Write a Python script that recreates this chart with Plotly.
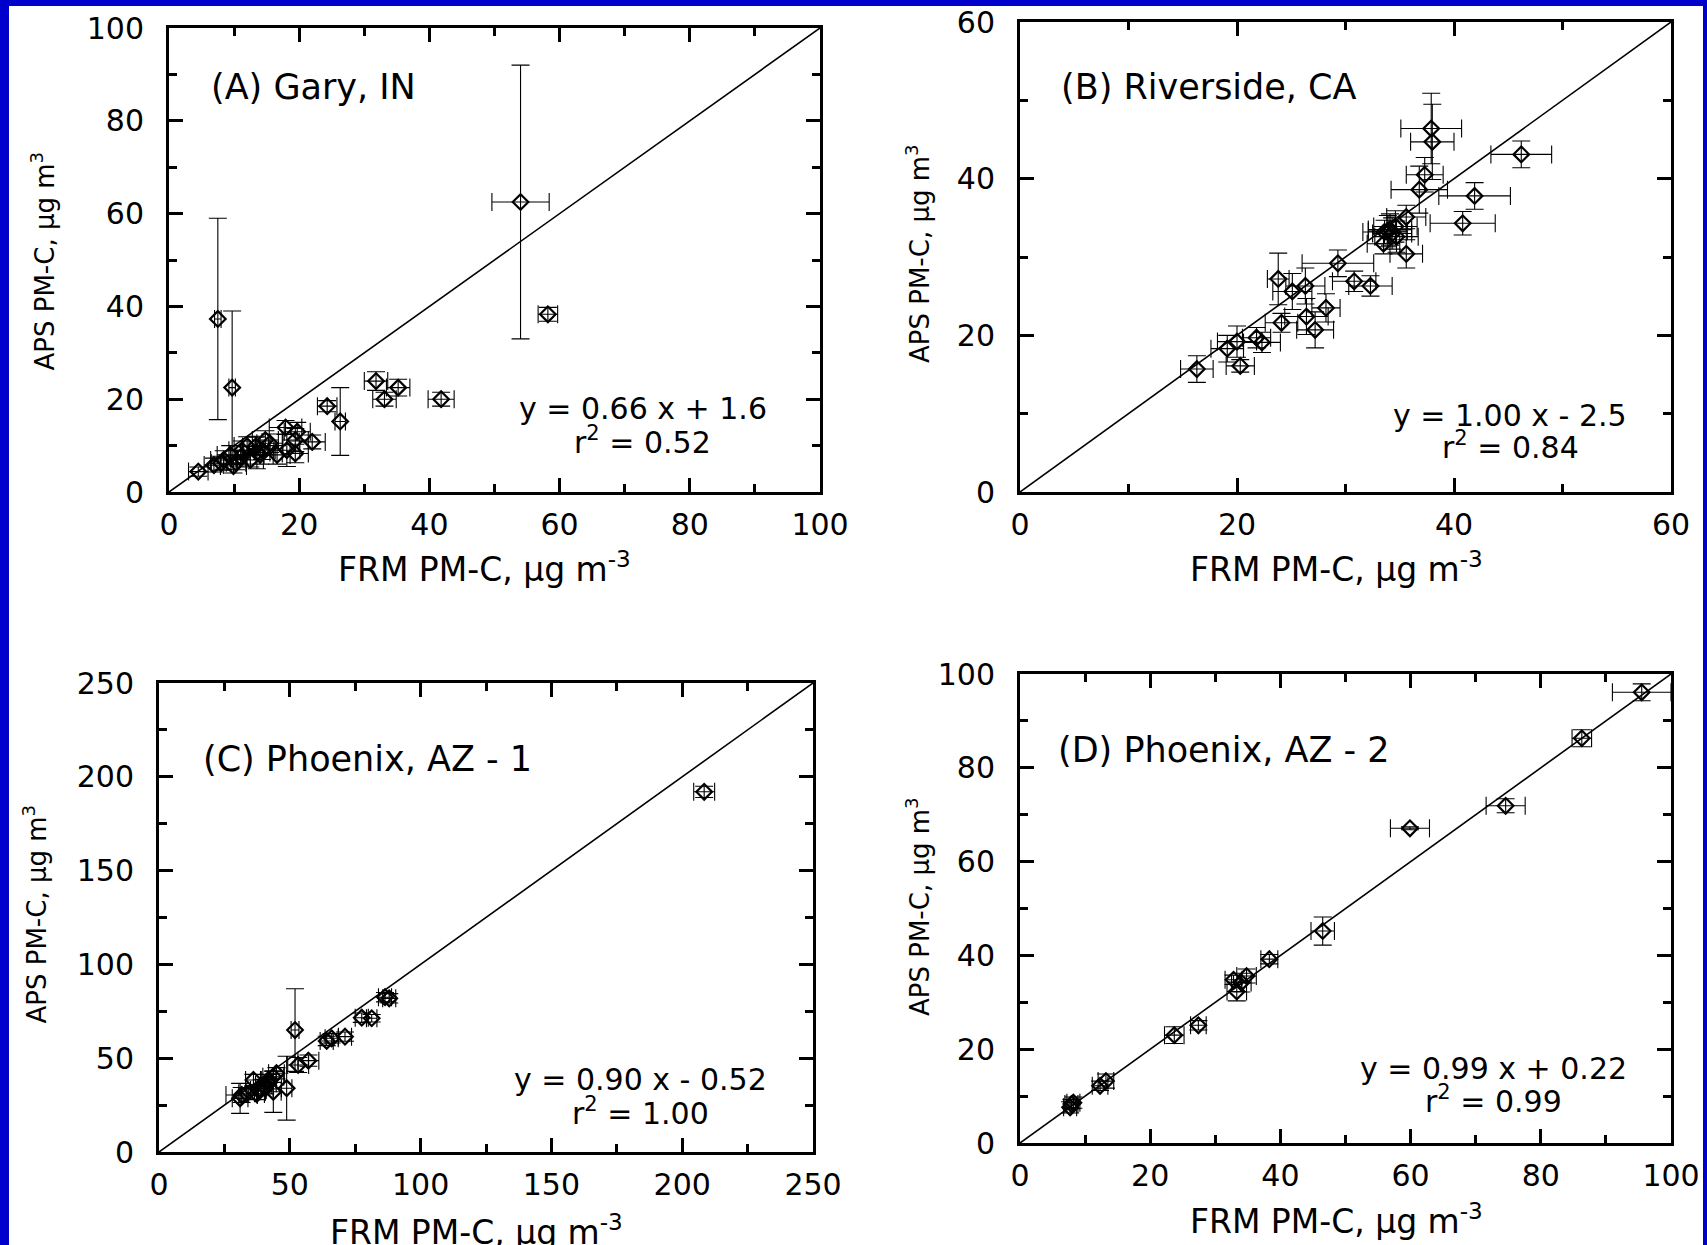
import plotly.graph_objects as go

# ---------------- data ----------------
# (A) Gary, IN
A_x = [7.5, 9.7, 54.0, 58.2, 31.8, 33.1, 35.2, 41.8, 24.3, 26.3, 4.5, 6.9, 8.0, 8.4, 9.9, 9.4, 10.3,
       11.0, 11.2, 12.0, 12.5, 13.3, 13.5, 14.0, 14.3, 14.8, 15.5, 16.6, 17.9, 18.1, 19.4, 19.7, 19.4, 22.0]
A_y = [37.3, 22.5, 62.5, 38.3, 23.9, 20.0, 22.5, 20.0, 18.5, 15.2, 4.4, 5.8, 6.2, 6.9, 5.6, 8.0, 6.3,
       7.5, 9.0, 9.9, 6.9, 9.8, 8.5, 8.0, 9.0, 11.2, 10.5, 8.0, 13.9, 9.0, 8.3, 13.0, 11.2, 10.8]
A_xerr = [0.5, 0.5, 4.4, 1.5, 1.8, 1.8, 1.8, 2.0, 1.5, 0.8, 1.5, 1.5, 1.5, 2.0, 2.0, 2.0, 1.5,
          1.5, 2.0, 2.0, 2.0, 2.0, 2.0, 2.0, 2.0, 2.0, 2.0, 2.0, 2.5, 2.0, 2.0, 2.0, 2.0, 2.0]
A_yerr = [21.7, 16.5, 29.5, 1.5, 2.0, 1.5, 1.8, 1.5, 1.2, 7.3, 1.0, 1.5, 1.5, 2.0, 1.5, 2.0, 1.5,
          1.5, 2.0, 2.0, 1.5, 2.0, 3.5, 2.0, 2.0, 2.0, 2.0, 2.0, 1.5, 3.5, 2.0, 2.0, 2.5, 1.5]

# (B) Riverside, CA
B_x = [16.3, 20.3, 19.1, 20.0, 21.8, 22.3, 24.1, 23.8, 25.1, 26.3, 26.4, 27.2, 28.2, 29.3, 30.8, 32.3,
       33.5, 33.6, 34.1, 34.6, 34.7, 35.6, 35.6, 36.8, 37.3, 38.0, 37.9, 41.9, 40.8, 46.2, 34.3, 33.9]
B_y = [15.7, 16.1, 18.3, 19.2, 19.7, 19.1, 21.6, 27.2, 25.6, 26.3, 22.4, 20.7, 23.5, 29.2, 26.9, 26.3,
       31.7, 33.2, 33.5, 33.9, 32.6, 35.1, 30.4, 38.6, 40.5, 44.7, 46.4, 37.8, 34.3, 43.1, 33.0, 33.3]
B_xerr = [1.5, 1.3, 1.5, 1.8, 1.3, 1.7, 1.5, 1.0, 1.8, 1.8, 2.0, 1.7, 1.3, 3.3, 2.0, 2.0,
          1.5, 2.0, 2.0, 2.0, 2.0, 1.8, 1.5, 2.6, 1.7, 2.0, 2.8, 3.3, 3.0, 2.8, 1.8, 1.8]
B_yerr = [1.7, 0.8, 1.7, 2.0, 1.3, 1.3, 1.2, 3.3, 2.3, 2.3, 2.3, 2.3, 1.8, 1.7, 1.3, 1.3,
          1.3, 1.5, 2.0, 2.0, 2.0, 1.5, 1.8, 3.0, 2.2, 4.8, 4.5, 1.7, 1.5, 1.7, 2.0, 2.0]

# (C) Phoenix, AZ - 1
C_x = [208.4, 52.0, 86.4, 88.0, 77.5, 81.3, 71.1, 64.1, 66.0, 57.1, 53.2, 48.8, 43.7, 41.8, 39.9,
       36.1, 38.0, 43.7, 31.6, 31.0, 33.5, 37.3, 44.9, 41.8, 40.6]
C_y = [192.0, 65.0, 82.5, 81.9, 71.6, 71.3, 61.5, 59.2, 60.6, 48.7, 46.4, 34.0, 40.1, 38.4, 35.7,
       38.4, 33.0, 32.1, 30.4, 28.6, 31.3, 30.9, 42.0, 36.6, 34.0]
C_xerr = [4.0, 1.5, 2.5, 2.5, 2.5, 2.0, 2.5, 2.5, 2.5, 4.0, 4.0, 2.0, 4.0, 3.0, 3.0,
          3.0, 3.0, 3.0, 6.0, 3.0, 3.0, 3.0, 3.0, 3.0, 3.0]
C_yerr = [3.0, 22.0, 2.5, 2.5, 2.5, 2.0, 2.5, 2.5, 2.5, 3.0, 4.0, 17.0, 3.0, 3.0, 3.0,
          3.0, 3.0, 11.0, 4.0, 8.0, 3.0, 3.0, 3.0, 3.0, 3.0]

# (D) Phoenix, AZ - 2
D_x = [7.9, 7.7, 8.2, 12.3, 13.2, 23.7, 27.4, 32.8, 33.3, 34.8, 38.3, 46.5, 59.9, 74.6, 86.3, 95.5, 34.0]
D_y = [8.3, 7.6, 8.6, 12.2, 13.2, 23.0, 25.1, 34.8, 32.3, 35.6, 39.2, 45.2, 67.1, 71.9, 86.3, 96.1, 34.2]
D_xerr = [1.0, 1.0, 1.0, 1.2, 1.2, 1.5, 1.2, 1.3, 1.5, 1.5, 1.3, 1.8, 3.0, 3.0, 1.5, 4.5, 1.5]
D_yerr = [1.0, 1.2, 1.2, 1.0, 1.5, 1.8, 1.0, 1.0, 2.0, 1.5, 1.0, 3.0, 0.3, 1.5, 1.8, 1.8, 2.0]

panel_labels = ["(A) Gary, IN", "(B) Riverside, CA", "(C) Phoenix, AZ - 1", "(D) Phoenix, AZ - 2"]
equations = ["y = 0.66 x + 1.6", "y = 1.00 x - 2.5", "y = 0.90 x - 0.52", "y = 0.99 x + 0.22"]
r2_texts = ["r<sup>2</sup> = 0.52", "r<sup>2</sup> = 0.84", "r<sup>2</sup> = 1.00", "r<sup>2</sup> = 0.99"]
axis_max = [100, 60, 250, 100]
major_dtick = [20, 20, 50, 20]
minor_dtick = [10, 10, 25, 10]
x_title = "FRM PM-C, µg m<sup>-3</sup>"
y_title = "APS PM-C, µg m<sup>3</sup>"

# ---------------- layout geometry ----------------
W, H = 1707, 1245
FONT = "DejaVu Sans, Verdana, sans-serif"

def px_x(p):
    return p / W

def px_y(p):
    return 1 - p / H

# plot boxes in pixels: (left, right, top, bottom)
boxes = [(169, 820, 28, 492), (1020, 1671, 22, 492), (159, 813, 683, 1152), (1020, 1671, 674, 1143)]

# annotation positions in data units
label_pos = [(6.2, 87.3), (3.6, 51.7), (16.2, 209.5), (5.5, 83.8)]
eq_pos = [(72.8, 17.9, 11.0), (45.2, 9.8, 5.9), (183.9, 38.4, 21.6), (72.8, 15.8, 9.2)]
# axis title positions in pixels
xt_pos = [(484.5, 567), (1336, 567), (476, 1230), (1336, 1219)]
yt_pos = [(43.5, 261), (918, 254), (35, 914.5), (918, 907)]

data = [(A_x, A_y, A_xerr, A_yerr), (B_x, B_y, B_xerr, B_yerr),
        (C_x, C_y, C_xerr, C_yerr), (D_x, D_y, D_xerr, D_yerr)]

fig = go.Figure()
layout = dict(width=W, height=H, margin=dict(l=0, r=0, t=0, b=0, pad=0, autoexpand=False),
              template="none",
              paper_bgcolor="white", plot_bgcolor="white", showlegend=False,
              font=dict(family=FONT, size=30, color="black"))
annotations = []
shapes = []

for i in range(4):
    n = "" if i == 0 else str(i + 1)
    xa, ya = "x" + n, "y" + n
    xs, ys, xe, ye = data[i]
    m = axis_max[i]
    # 1:1 line
    fig.add_trace(go.Scatter(x=[0, m], y=[0, m], mode="lines", xaxis=xa, yaxis=ya,
                             line=dict(color="black", width=1.6), hoverinfo="skip"))
    fig.add_trace(go.Scatter(
        x=xs, y=ys, mode="markers", xaxis=xa, yaxis=ya,
        marker=dict(symbol="diamond-open", size=12, color="black", line=dict(width=2.2, color="black")),
        error_x=dict(type="data", array=xe, visible=True, color="black", thickness=1.1, width=9),
        error_y=dict(type="data", array=ye, visible=True, color="black", thickness=1.1, width=9),
    ))
    l, r, t, b = boxes[i]
    axis_common = dict(
        range=[0, m], showgrid=False, zeroline=False, showline=True, linecolor="black", linewidth=3,
        mirror="ticks", ticks="inside", ticklen=14, tickwidth=3, tickcolor="black",
        dtick=major_dtick[i], tick0=0, automargin=False,
        minor=dict(dtick=minor_dtick[i], tick0=0, ticks="inside", ticklen=8, tickwidth=3, tickcolor="black"),
        tickfont=dict(family=FONT, size=30, color="black"), fixedrange=True,
    )
    layout["xaxis" + n] = dict(axis_common, domain=[px_x(l), px_x(r)], anchor=ya, ticklabelstandoff=4)
    layout["yaxis" + n] = dict(axis_common, domain=[px_y(b), px_y(t)], anchor=xa, ticklabelstandoff=16)

    lx, ly = label_pos[i]
    annotations.append(dict(x=lx, y=ly, xref=xa, yref=ya, text=panel_labels[i], showarrow=False,
                            xanchor="left", yanchor="middle", font=dict(family=FONT, size=35)))
    ex, ey1, ey2 = eq_pos[i]
    annotations.append(dict(x=ex, y=ey1, xref=xa, yref=ya, text=equations[i], showarrow=False,
                            xanchor="center", yanchor="middle", font=dict(family=FONT, size=30)))
    annotations.append(dict(x=ex, y=ey2, xref=xa, yref=ya, text=r2_texts[i], showarrow=False,
                            xanchor="center", yanchor="middle", font=dict(family=FONT, size=30)))
    tx, ty = xt_pos[i]
    annotations.append(dict(x=px_x(tx), y=px_y(ty), xref="paper", yref="paper", text=x_title,
                            showarrow=False, xanchor="center", yanchor="middle",
                            font=dict(family=FONT, size=33)))
    tx, ty = yt_pos[i]
    annotations.append(dict(x=px_x(tx), y=px_y(ty), xref="paper", yref="paper", text=y_title,
                            showarrow=False, xanchor="center", yanchor="middle", textangle=-90,
                            font=dict(family=FONT, size=26)))

# blue frame
blue = "#0000CC"
shapes.append(dict(type="rect", xref="paper", yref="paper", x0=0, x1=px_x(9), y0=0, y1=1,
                   fillcolor=blue, line=dict(width=0), layer="above"))
shapes.append(dict(type="rect", xref="paper", yref="paper", x0=0, x1=1, y0=px_y(6), y1=1,
                   fillcolor=blue, line=dict(width=0), layer="above"))
shapes.append(dict(type="rect", xref="paper", yref="paper", x0=px_x(W - 4), x1=1, y0=0, y1=1,
                   fillcolor=blue, line=dict(width=0), layer="above"))

layout["annotations"] = annotations
layout["shapes"] = shapes
fig.update_layout(**layout)
fig.write_html("out.html", config={"displayModeBar": False},
               post_script="document.body.style.margin='0';document.body.style.padding='0';"
                           "document.documentElement.style.overflow='hidden';")
